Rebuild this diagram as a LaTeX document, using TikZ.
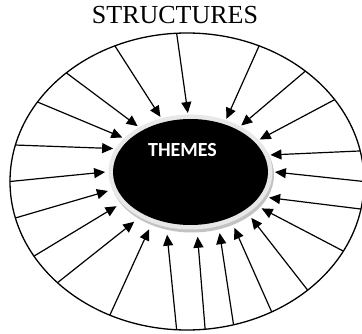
\documentclass[tikz,border=0pt]{standalone}
\usepackage{fontspec}
\setmainfont{Liberation Serif}
\newfontfamily\themefont{Carlito}
\usetikzlibrary{shapes.geometric,arrows.meta}
\begin{document}
\begin{tikzpicture}[x=1pt,y=-1pt,
  ring/.style={ellipse,draw=black,line width=1.3pt,inner sep=0,outer sep=0},
  blob/.style={ellipse,draw=none,inner sep=0,outer sep=0},
  spoke/.style={line width=1.2pt,-{Triangle[length=11pt,width=10pt]}}]
\useasboundingbox (0,0) rectangle (362,334);
\node[ring,minimum width=354pt,minimum height=297pt] (outer) at (187,181.5) {};
\node[blob,fill=black!24,minimum width=164pt,minimum height=115pt] (shadow) at (192,175) {};
\node[blob,fill=black!9,minimum width=164pt,minimum height=115pt] (halo) at (190.5,172) {};
\node[blob,fill=black,minimum width=155pt,minimum height=106pt] (core) at (190.5,172) {};
\node[blob,minimum width=170pt,minimum height=124pt] (target) at (190,175) {};
\node[text=white,font=\themefont\bfseries\fontsize{20}{24}\selectfont,inner sep=0] (themes) at (182.5,150) {THEMES};
\node[font=\fontsize{26}{30}\selectfont,inner sep=0] (title) at (175,15) {STRUCTURES};
\foreach \a/\b in {152.1/151.4, 138.4/137.3, 118.5/117.4, 94.6/92.9, 62.5/57.5,
  43.4/44.5, 29.0/27.2, 10.5/14.7, 0/2.1, 351.7/344.3, 336.5/335.8, 318.4/325.1,
  303.5/310.1, 288.7/297.6, 277.1/277.2, 266.5/249.6, 240.1/233.0, 218.6/220.0,
  206.7/203.1, 192.1/191.3, 180.5/178.6, 168.0/161.1}
  \draw[spoke] (outer.\a) -- (target.\b);
\end{tikzpicture}
\end{document}
